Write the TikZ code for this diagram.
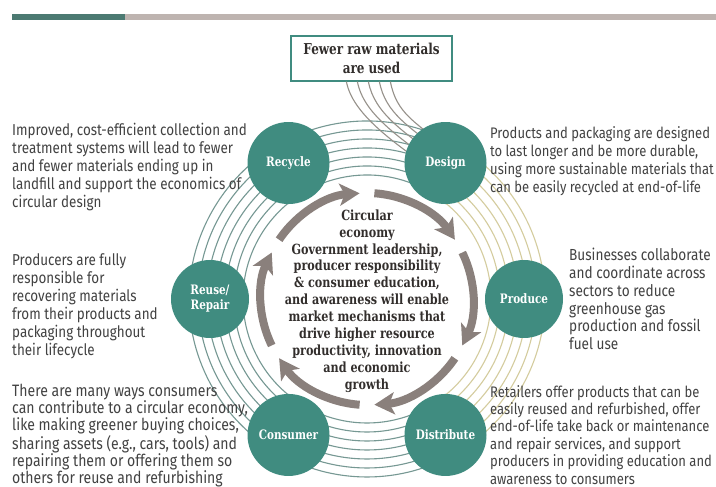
\documentclass[tikz,border=0pt]{standalone}
\usepackage{fontspec}
\setmainfont{Fira Sans}
\newfontfamily\slab{DejaVu Serif}[FakeStretch=0.8]
\newfontfamily\cond{Fira Sans}[FakeStretch=0.85]
\usetikzlibrary{arrows.meta,calc}
\definecolor{nodeteal}{RGB}{64,140,128}
\definecolor{barteal}{RGB}{76,122,114}
\definecolor{bargrey}{RGB}{190,180,176}
\definecolor{arrowgrey}{RGB}{138,128,124}
\definecolor{ringteal}{RGB}{118,152,147}
\definecolor{ringyellow}{RGB}{212,204,158}
\definecolor{boxline}{RGB}{150,145,138}
\definecolor{txtgrey}{RGB}{66,66,66}
\definecolor{txtdark}{RGB}{50,46,44}
\begin{document}
\begin{tikzpicture}[x=1pt,y=1pt,
  hub/.style={circle, fill=nodeteal, minimum size=82pt, inner sep=0pt, text=white,
    font=\slab\bfseries\fontsize{13}{15}\selectfont, align=center},
  side/.style={anchor=north west, inner sep=0pt, align=left, text=txtgrey,
    font=\cond\fontsize{15.8}{18}\selectfont},
  ringT/.style={draw=ringteal, line width=1.1pt},
  ringY/.style={draw=ringyellow, line width=1.1pt},
  feedline/.style={draw=boxline, line width=1.1pt},
  cyclearrow/.style={draw=arrowgrey, line width=8pt,
    -{Stealth[length=20pt, width=22pt, inset=5pt]}}]
\useasboundingbox (0,0) rectangle (716,487);
\clip (0,0) rectangle (716,487);
\fill[white] (0,0) rectangle (716,487);
% top bar
\fill[barteal] (12,467) rectangle (125,473);
\fill[bargrey] (125,467) rectangle (716,473);
\coordinate (C) at (367,188);
% rings
\foreach \r in {124,133,142,151,160,169,178}{
  \draw[ringT] ($(C)+(60:\r)$) arc[start angle=60, end angle=300, radius=\r];
  \draw[ringY] ($(C)+(-60:\r)$) arc[start angle=-60, end angle=60, radius=\r];
}
% top box
\node[draw=nodeteal, line width=1.2pt, fill=white, minimum width=161pt, minimum height=45pt,
  inner sep=0pt, align=center, text=txtdark, font=\slab\bfseries\fontsize{15}{19}\selectfont]
  (raw) at (371.5,428.5) {Fewer raw materials\\are used};
\foreach \i in {0,...,4}{
  \coordinate (s\i) at ($(raw.south west)+(56+11*\i,0)$);
  \coordinate (e\i) at (440,312+8*\i);
  \draw[feedline] (s\i) .. controls ($(s\i)+(6,-32)$) and ($(392+6*\i,345+5*\i)$) .. (e\i);
}
% cycle arrows
\foreach \s in {146,86,26,-34,-94,-154}{
  \draw[cyclearrow] ($(C)+(\s:106)$) arc[start angle=\s, end angle=\s-52, radius=106];
}
% hubs
\node[hub] (design) at ($(C)+(60:157)$) {Design};
\node[hub] (recycle) at ($(C)+(120:157)$) {Recycle};
\node[hub, minimum size=78pt] (produce) at ($(C)+(0:157)$) {Produce};
\node[hub, minimum size=78pt] (reuse) at ($(C)+(180:157)$) {Reuse/\\Repair};
\node[hub] (consumer) at ($(C)+(240:157)$) {Consumer};
\node[hub] (distribute) at ($(C)+(300:157)$) {Distribute};
% centre text
\node[inner sep=0pt, align=center, text=txtdark, font=\slab\bfseries\fontsize{14}{16.9}\selectfont]
  (core) at (367,186) {Circular\\economy\\Government leadership,\\producer responsibility\\\& consumer education,\\and awareness will enable\\market mechanisms that\\drive higher resource\\productivity, innovation\\and economic\\growth};
% side texts
\node[side] (lt) at (12,364) {Improved, cost-efficient collection and\\treatment systems will lead to fewer\\and fewer materials ending up in\\landfill and support the economics of\\circular design};
\node[side] (lm) at (12,234) {Producers are fully\\responsible for\\recovering materials\\from their products and\\packaging throughout\\their lifecycle};
\node[side, font=\cond\fontsize{16.5}{17.2}\selectfont] (lb) at (12,103) {There are many ways consumers\\can contribute to a circular economy,\\like making greener buying choices,\\sharing assets (e.g., cars, tools) and\\repairing them or offering them so\\others for reuse and refurbishing};
\node[side, font=\cond\fontsize{15.3}{18}\selectfont] (rt) at (490,361) {Products and packaging are designed\\to last longer and be more durable,\\using more sustainable materials that\\can be easily recycled at end-of-life};
\node[side, font=\cond\fontsize{16}{17.8}\selectfont] (rm) at (569,239) {Businesses collaborate\\and coordinate across\\sectors to reduce\\greenhouse gas\\production and fossil\\fuel use};
\node[side, font=\cond\fontsize{15.3}{17.4}\selectfont] (rb) at (490,102) {Retailers offer products that can be\\easily reused and refurbished, offer\\end-of-life take back or maintenance\\and repair services, and support\\producers in providing education and\\awareness to consumers};
\end{tikzpicture}
\end{document}
